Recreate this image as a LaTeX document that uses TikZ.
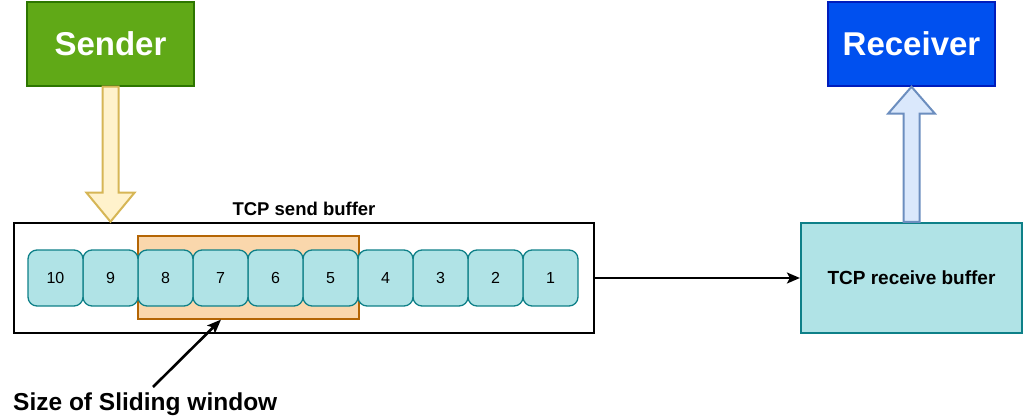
\documentclass[tikz,border=0pt]{standalone}
\usepackage{fontspec}
\setmainfont{Liberation Sans}
\usetikzlibrary{calc,arrows.meta}
\definecolor{sendfill}{HTML}{60A917}
\definecolor{senddraw}{HTML}{2D7600}
\definecolor{recvfill}{HTML}{0050EF}
\definecolor{recvdraw}{HTML}{001DBC}
\definecolor{cellfill}{HTML}{B0E3E6}
\definecolor{celldraw}{HTML}{0E8088}
\definecolor{winfill}{HTML}{FAD7AC}
\definecolor{windraw}{HTML}{B46504}
\definecolor{yarfill}{HTML}{FFF2CC}
\definecolor{yardraw}{HTML}{D6B656}
\definecolor{barfill}{HTML}{DAE8FC}
\definecolor{bardraw}{HTML}{6C8EBF}
\begin{document}
\begin{tikzpicture}[x=1pt,y=-1pt,
  endbox/.style={draw, line width=1.5pt, minimum width=167pt, minimum height=84pt, inner sep=0pt,
    text=white, font=\fontsize{33}{40}\selectfont\bfseries},
  cellbox/.style={draw=celldraw, fill=cellfill, line width=1.3pt, rounded corners=9pt,
    minimum width=55pt, minimum height=56pt, inner sep=0pt, font=\fontsize{16}{19}\selectfont},
  blockarrow/.style={line width=2pt, line join=miter},
  link/.style={line width=2pt, -{Stealth[length=13pt,width=11pt,inset=3pt]}}
]
\useasboundingbox (0,0) rectangle (1024,417);

\node[endbox, fill=sendfill, draw=senddraw] (sender) at (110.5,44) {Sender};
\node[endbox, fill=recvfill, draw=recvdraw] (receiver) at (911.5,44) {Receiver};

\node[draw=black, line width=2.6pt, minimum width=580pt, minimum height=110pt, inner sep=0pt] (sendbuf) at (304,278) {};
\node[anchor=base, inner sep=0pt, font=\fontsize{18.5}{22}\selectfont\bfseries] (sendlabel) at ($(sendbuf.north)+(0,-6)$) {TCP send buffer};

\node[draw=windraw, fill=winfill, line width=1.2pt, minimum width=221pt, minimum height=83pt, inner sep=0pt] (window) at (248.5,277.5) {};

\foreach \n in {1,...,10} {
  \node[cellbox] (c\n) at ({55.5+55*(10-\n)},278) {\n};
}

\node[draw=celldraw, fill=cellfill, line width=2.2pt, minimum width=221pt, minimum height=110pt, inner sep=0pt,
  font=\fontsize{19}{23}\selectfont\bfseries] (recvbuf) at (911.5,278) {TCP receive buffer};

\draw[link] (sendbuf.east) -- (recvbuf.west);

% sender block arrow
\coordinate (sa) at (sender.south);
\coordinate (sb) at (sender.south |- sendbuf.north);
\draw[blockarrow, draw=yardraw, fill=yarfill]
  ($(sa)+(-8,0)$) -- ($(sb)+(-8,-29)$) -- ($(sb)+(-24,-29)$) -- (sb)
  -- ($(sb)+(24,-29)$) -- ($(sb)+(8,-29)$) -- ($(sa)+(8,0)$) -- cycle;

% receiver block arrow
\coordinate (ra) at (receiver.south);
\coordinate (rb) at (receiver.south |- recvbuf.north);
\draw[blockarrow, draw=bardraw, fill=barfill]
  ($(rb)+(-8,0)$) -- ($(ra)+(-8,27)$) -- ($(ra)+(-23.5,27)$) -- (ra)
  -- ($(ra)+(23.5,27)$) -- ($(ra)+(8,27)$) -- ($(rb)+(8,0)$) -- cycle;

\node[anchor=base west, inner sep=0pt, font=\fontsize{24.5}{30}\selectfont\bfseries] (swlabel) at (13,410) {Size of Sliding window};
\coordinate (swtail) at (153,387);
\draw[line width=2.6pt, -{Stealth[length=14pt,width=11pt,inset=3pt]}] (swtail) -- ($(window.south)+(-27.5,0)$);
\end{tikzpicture}
\end{document}
